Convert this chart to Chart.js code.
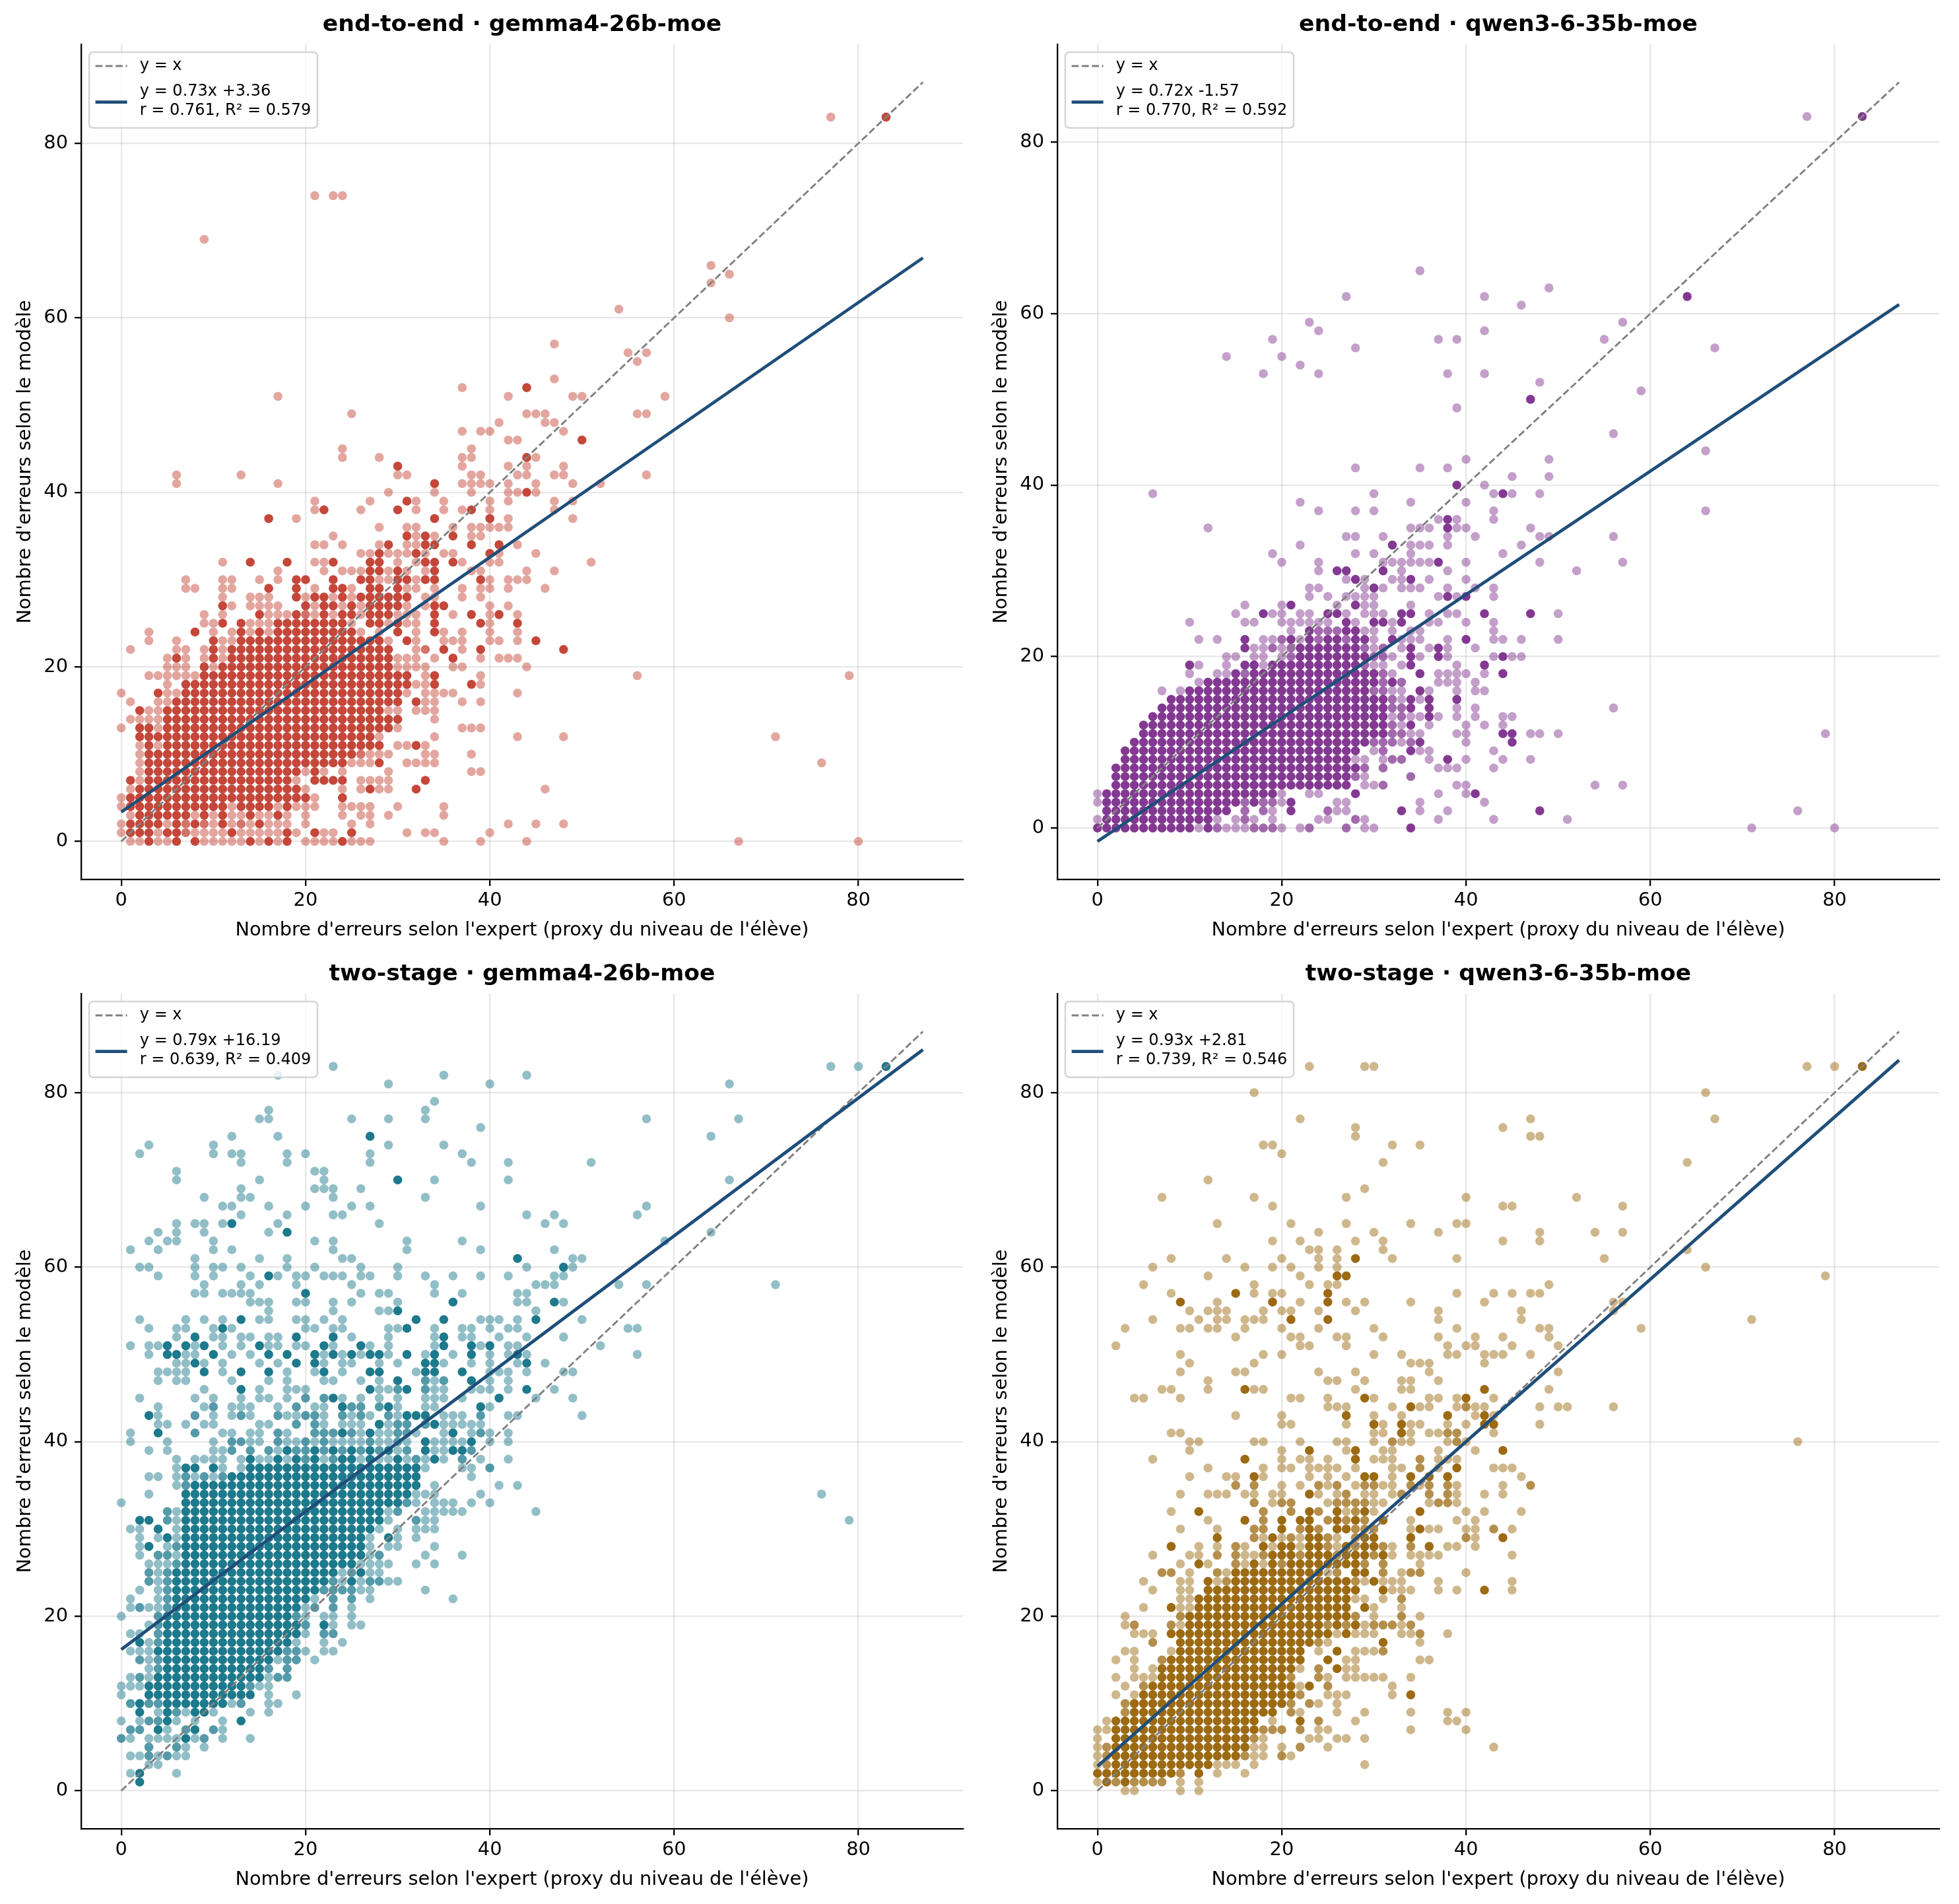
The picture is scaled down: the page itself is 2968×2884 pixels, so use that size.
<!DOCTYPE html>
<html><head><meta charset="utf-8">
<script src="https://cdn.jsdelivr.net/npm/chart.js@4.4.1/dist/chart.umd.min.js"></script>
<style>
html,body{margin:0;padding:0;background:#fff;}
body{width:2968px;height:2884px;position:relative;overflow:hidden;}
canvas{position:absolute;}
</style></head><body>
<canvas id="c0" width="1479" height="1432" style="left:0px;top:0px;width:1479px;height:1432px"></canvas>
<canvas id="c1" width="1479" height="1432" style="left:1479px;top:0px;width:1479px;height:1432px"></canvas>
<canvas id="c2" width="1479" height="1432" style="left:0px;top:1438px;width:1479px;height:1432px"></canvas>
<canvas id="c3" width="1479" height="1432" style="left:1479px;top:1438px;width:1479px;height:1432px"></canvas>
<script>
// ---------- DATA ----------
const X_TICKS = [0, 20, 40, 60, 80];
const Y_TICKS = [0, 20, 40, 60, 80];
const X_LABEL = "Nombre d'erreurs selon l'expert (proxy du niveau de l'élève)";
const Y_LABEL = "Nombre d'erreurs selon le modèle";
const PANEL_TITLES = ["end-to-end · gemma4-26b-moe", "end-to-end · qwen3-6-35b-moe", "two-stage · gemma4-26b-moe", "two-stage · qwen3-6-35b-moe"];
const FIT_SLOPES = [0.73, 0.72, 0.79, 0.93];
const FIT_INTERCEPTS = [3.36, -1.57, 16.19, 2.81];
const FIT_R = ["0.761", "0.770", "0.639", "0.739"];
const FIT_R2 = ["0.579", "0.592", "0.409", "0.546"];
const LINE_RANGE = [0, 87];
const DIAG_LABEL = "y = x";

// rows: [y, "x:level" or "x0-x1:level" ...]; level 1 = single point, 2 = few, 3 = many overlapping
const gemmaE2eRows = [
[0,"1:1 2:1 3:3 4:1 5:1 6:3 8:3 9:1 10:1 11:1 12:1 13:1 14:3 15:1 16:3 17:1 18:3 20:1 21:1 22:1 23:1 24:3 25:1 26:1 27:1 35:1 39:1 44:1 67:1 80:1"],
[1,"0:1 1:3 2:3 3:3 4:1 5:3 6:3 7:2 8:1 9:1 10:1 11:1 12:3 13:1 14:1 15:1 16:1 17:1 18:3 19:1 21:3 22:1 23:1 25:3 31:1 33:1 34:1 40:1"],
[2,"0:1 1-4:3 5:1 6:3 7:2 8:3 9:2 10:1 11:3 12:1 13:2 14:1 15:3 16:1 17:1 18:1 20:1 25:1 27:1 42:1 45:1 48:1"],
[3,"1:1 2-7:3 8:1 9:3 10:1 11:3 12:1 13:1 14:3 15:1 16:1 17:3 18:1 20:1 24:1 26:1 27:1 29:1 35:1"],
[4,"0:1 1-11:3 12:1 13-16:3 17:1 18:3 19:1 20:1 21:1 24:1 25:1 26:1 27:1 30:1 35:1"],
[5,"0:1 1-20:3 21:1 24:3"],
[6,"1:1 2-19:3 20:1 24:1 26:1 27:3 28:1 29:1 32:3 46:1"],
[7,"1:3 2:1 3-18:3 19:1 21-24:3 26:1 27:1 28:1 29:1 33:3"],
[8,"2:1 3-19:3 20:1 21:3 22:1 24:1 29:1 38:1 39:1"],
[9,"2:1 3-24:3 25:1 26:1 27:1 28:3 31:1 32:1 33:1 34:1 76:1"],
[10,"2:1 3-25:3 26:2 27:1 28:1 29:1 33:1 34:1 38:1"],
[11,"2:1 3:3 4:1 5-28:3 30:1 31:1 32:3 33:1"],
[12,"2-27:3 28:1 34:1 43:1 48:1 71:1"],
[13,"0:1 2:3 3:3 4:1 5-29:3 30:1 37:1 38:1 39:1"],
[14,"1:1 2:1 3:1 4:1 5-30:3 34:1"],
[15,"2:3 3:1 4:1 5-28:3 29:1 30:1 32:1 33:1 34:1"],
[16,"1:1 4:1 5:1 6-30:3 32:3 33:1 34:1 37:1 39:1"],
[17,"0:1 4:3 5:1 6:1 7-30:3 31:1 33:1 34:1 35:1 36:1 43:1"],
[18,"5:1 7-31:3 32:1 33:1 34:3 38:3 39:1"],
[19,"3:1 4:1 5:1 6:1 7:1 8:1 9-31:3 33:1 34:3 39:1 56:1 79:1"],
[20,"5:1 6:1 7:1 9:3 10:1 11-29:3 30:1 31:1 32:1 33:1 36:1 37:1 44:1"],
[21,"5:1 6:3 7:1 9:1 10:3 11:1 12-29:3 30:1 31:1 32:1 34:1 36:3 39:1 41:1 42:1 43:1"],
[22,"1:1 6:1 7:1 9:1 10:3 11:1 12-29:3 32:1 33:2 35:3 37:1 39:3 48:3"],
[23,"3:1 6:1 10:3 11:1 12:1 13-28:3 29:1 31:3 32:1 35:1 36:1 37:1 40:1 41:1 43:1 45:3"],
[24,"3:1 8:3 10:1 12:1 13:3 14:1 15:3 16:1 17-25:3 26:1 28:1 30:3 32:1 34:3 35:1 37:1 40:1 43:1"],
[25,"9:1 10:1 11:3 13:3 14:1 15:1 16:1 17-24:3 25:1 27:3 28:3 29:1 30:3 31:1 32:1 34:3 39:3 40:1 43:3"],
[26,"9:1 11:1 15:3 16:1 17:1 18:1 19:3 20:2 21:1 22:3 23:1 24:3 25:3 26:1 27-29:3 30:1 31:1 32:1 34:3 36:1 38:3 40:1 41:3 43:1"],
[27,"11:3 12:1 14:1 15:1 16:1 17:1 20:3 21:1 22:3 23:3 24:1 25:3 26:1 27-30:3 31:1 33:1 34:3 35:3 40:1 42:1"],
[28,"11:1 14:1 15:1 16:1 19:3 20:1 21:3 22:3 23:1 24:3 25:1 26-31:3 33:1 34:1 37:1 39:1"],
[29,"7:1 8:1 11:1 12:1 16:3 19:3 21:1 23:3 24:3 25:1 27:3 28:3 30:3 31:1 32:1 34:1 37:1 39:1 40:1 42:1 46:1"],
[30,"7:1 11:1 12:1 15:1 17:1 19:3 20:3 23:3 26:3 27:3 28:1 29:1 30:3 31:3 32:1 33:3 34:3 39:3 40:1 42:1 43:1 44:1"],
[31,"17:1 22:1 24:1 25:1 26:1 27:3 28:3 29:1 30:3 31:1 33:1 34:3 38:1 39:1 44:1 47:1"],
[32,"11:1 14:3 18:3 21:1 22:1 23:3 27:3 28:3 30:1 32:1 33:3 34:3 36:3 37:1 40:1 41:1 51:1"],
[33,"26:1 27:1 28:3 29:1 30:1 31:1 32:3 33:1 35:1 36:1 40:3 41:1 45:1"],
[34,"21:1 22:1 24:1 28:1 29:3 31:1 32:1 33:3 34:3 38:3 41:3 43:1"],
[35,"23:1 31:3 32:1 33:3 34:1 36:3 38:1 39:1"],
[36,"28:1 31:1 32:1 36:1 38:1 39:1 40:1 41:1 42:1"],
[37,"16:3 19:1 34:3 40:3 42:1 49:1"],
[38,"21:1 22:3 26:1 30:3 32:1 35:1 37:1 38:3 40:1 47:1"],
[39,"21:1 27:1 31:3 32:1 35:1 40:1 42:1 47:1 49:1"],
[40,"29:1 34:1 38:1 42:1 43:1 44:3 45:1"],
[41,"6:1 17:1 34:3 37:1 38:1 39:1 40:1 42:1 45:1 49:1 52:1"],
[42,"6:1 13:1 30:1 31:1 38:1 39:1 43:1 44:1 47:1 48:1 57:1"],
[43,"30:3 37:1 42:1 44:1 48:1"],
[44,"24:1 28:1 37:1 38:1 44:3 45:1"],
[45,"24:1 38:1"],
[46,"42:1 43:1 50:3"],
[47,"37:1 39:1 40:1 48:1"],
[48,"41:1 46:1 47:1"],
[49,"25:1 44:1 45:1 46:1 56:1 57:1"],
[51,"17:1 42:1 49:1 50:1 59:1"],
[52,"37:1 44:3"],
[53,"47:1"],
[55,"56:1"],
[56,"55:1 57:1"],
[57,"47:1"],
[60,"66:1"],
[61,"54:1"],
[64,"64:1"],
[65,"66:1"],
[66,"64:1"],
[69,"9:1"],
[74,"21:1 23:1 24:1"],
[83,"77:1 83:3"]
];

const qwenE2eRows = [
[0,"0-10:3 11:1 12:3 13:2 14-16:1 17-19:2 20:1 22:1 23:2 27:2 29:1 30:1 34:3 71:1 80:1"],
[1,"0:1 1-12:3 13:1 15:1 16:2 17:1 19:1 24:1 25:1 28:2 29:1 37:1 43:1 51:1"],
[2,"1-14:3 16:2 18:2 19:1 21:3 25:2 26:1 27:1 33:3 35:1 38:1 48:3 76:1"],
[3,"0:1 1-15:3 16:2 17:3 18:2 19:2 20:1 21:3 26:1 27:1 35:1 42:1"],
[4,"0:1 1-19:3 20:1 23:1 24:1 28:3 37:1 40:1 41:3"],
[5,"2-27:3 29:1 30:1 31:2 39:1 40:1 54:1 57:1"],
[6,"2-27:3 28:2 29:1 34:2"],
[7,"2-28:3 29:2 31:2 37:1 38:1 39:1 43:1"],
[8,"3-27:3 28:1 29:1 31:1 32:2 33:2 36:1 38:3 40:1 44:1 47:1"],
[9,"3-28:3 30:1 31:2 34:3 35:1 36:1 43:1"],
[10,"4-29:3 30-32:2 33:1 34:2 35:3 40:1 45:3"],
[11,"5-31:3 32:2 33:2 34:1 35:1 39:1 40:1 44:3 45:3 47:1 48:1 50:1 79:1"],
[12,"5-31:3 32:2 33:1 34:3 36:1 40:1 42:1 44:1"],
[13,"6-31:3 32:1 33:2 34:1 35:1 36:3 37:1 39:1 41:1 44:1 45:1"],
[14,"7-31:3 32:2 33:2 34:3 36:3 39:1 41:1 56:1"],
[15,"8-31:3 32:2 33:1 34:3 35:1 36:3 39:3"],
[16,"7:1 9:1 10-29:3 30:2 31:2 32:1 33:1 35:3 36:1 39:1 41:1 42:1"],
[17,"11:1 12-30:3 31:2 32:3 33:2 37:1 38:1 39:1 41:1"],
[18,"10:1 13:1 14:1 15:3 16:2 17-30:3 31:2 32:1 35:3 37:1 38:1 39:1 40:1 42:1 44:3"],
[19,"10:3 11:1 14:1 16:3 17:3 18:1 19-28:3 29:2 30:1 31:1 33:1 34:3 39:1 42:3"],
[20,"14:1 15:1 17:1 18:1 20:1 21:2 22-29:3 30:2 31:2 32:1 34:3 35:1 37:3 38:1 43:1 44:3 45:1 46:1"],
[21,"16:3 17:1 18:1 19:2 20:1 21:2 22-28:3 29:2 30:1 31:2 33:1 34:3 36:1 37:3 38:1 41:1"],
[22,"11:1 13:1 16:3 18:1 19:1 20:2 21:3 22:1 23:3 24:2 25:3 26:3 27:2 28:3 29:3 30:1 32:3 33:1 34:1 35:1 38:1 40:3 43:1 44:1 46:1 50:1"],
[23,"21:1 23:3 24:2 25:2 26:2 27:3 28:3 29:1 30:1 32:1 34:1 35:1 43:1"],
[24,"10:1 16:1 17:1 20-25:1 27:3 28:1 30:3 31:3 32:1 33:3 36:1 37:1 40:1 43:1"],
[25,"15:1 18:3 19:1 20:1 22:1 23:1 25:3 26:3 27:1 29:1 30:1 31:1 33:3 34:3 36:1 38:1 39:1 42:3 47:3 50:1"],
[26,"16:1 20:1 21:3 26:1 28:3 29:1 30:1 34:1"],
[27,"23:1 25:1 27:1 28:1 29:1 30:1 37:1 38:3 39:1 40:3 43:1"],
[28,"23:1 24:1 29:1 30:3 31:1 33:1 34:1 35:1 38:1 41:1 43:1"],
[29,"27:1 28:3 29:1 32:1 33:1 34:3 36:1 40:1"],
[30,"24:1 26:3 27:3 31:3 33:1 38:1 52:1"],
[31,"20:1 24:1 31:1 32:1 33:1 34:1 35:1 36:1 37:3 40:1 48:1 57:1"],
[32,"19:1 28:1 30:1 34:1 44:1"],
[33,"22:1 32:3 34:1 35:1 36:1 38:1 46:1"],
[34,"27:1 28:1 31:1 38:1 41:1 48:1 49:1 56:1"],
[35,"12:1 34:1 35:1 36:1 38:3 39:1 40:1 47:1"],
[36,"37:1 38:3 39:1 43:1"],
[37,"24:1 28:1 30:1 43:1 66:1"],
[38,"22:1 34:1 40:1"],
[39,"6:1 30:1 43:1 44:3 45:1 48:1"],
[40,"39:3 42:1"],
[41,"45:1 49:1"],
[42,"28:1 35:1 38:1"],
[43,"40:1 49:1"],
[44,"66:1"],
[46,"56:1"],
[49,"39:1"],
[50,"47:3"],
[51,"59:1"],
[52,"48:1"],
[53,"18:1 24:1 38:1 42:1"],
[54,"22:1"],
[55,"14:1 20:1"],
[56,"28:1 67:1"],
[57,"19:1 37:1 39:1 55:1"],
[58,"24:1 42:1"],
[59,"23:1 57:1"],
[61,"46:1"],
[62,"27:1 42:1 64:3"],
[63,"49:1"],
[65,"35:1"],
[83,"77:1 83:3"]
];

const gemmaTwoStageRows = [
[1,"2:3"],
[2,"1:1 2:3 6:1"],
[3,"3:1 4:1"],
[4,"1:1 2:1 3:2 4:1 5:2 6:1 7:1"],
[5,"3:2 6:2 7:1 9:1"],
[6,"0:2 1:1 3:1 4:1 5:1 6:1 7:3 8:1 9:2 11:1 14:1"],
[7,"1:2 2:2 4:3 5:1 7:2 8:3 10:2 11:1"],
[8,"0:1 2:1 3:2 4:2 5:3 6:1 8:1 11:1 13:3"],
[9,"2:3 4:1 5:3 6:2 7:1 8:3 9:3 10:1 14:1 16:1"],
[10,"1:2 2:3 3:2 4:2 5-11:3 12:1 13:2 16:1 17:1"],
[11,"0:1 3-14:3 16:1 19:1"],
[12,"0:1 1:1 2:1 3-13:3 14:2 15:1 16:1"],
[13,"1:1 2:2 3:1 4-15:3 16:1 17:2 18:2"],
[14,"3:1 4:2 5-15:3 16:2 18:2"],
[15,"2:2 3:1 4:2 5-16:3 17:1 18:2 19:2 21:1"],
[16,"1:1 2:1 3:1 4-17:3 18:2 19:2 20:1 22:1 23:1"],
[17,"2:3 3:1 4:2 5-18:3 19:1 22:1 24:1"],
[18,"1:1 2:1 4:2 5-19:3 20:1 22:2 23:2"],
[19,"3:1 4:2 5-19:3 20:2 22:3 23:1 25:1 26:1"],
[20,"0:1 4:2 5-18:3 19:2 20:1 22:1 23:1 25:1"],
[21,"1:1 2:2 3:1 4:1 5:2 6-19:3 20:1 21:2 23:2 25:1"],
[22,"1:1 4:1 5:2 6-20:3 21:1 23:2 25:2 27:1 36:1"],
[23,"2:1 4:1 5:2 6-21:3 22:2 23:2 24:2 25:2 26:1 27:1 33:1"],
[24,"3:2 4:1 5:2 6-22:3 23:2 24:1 25:3 26:1 27:2 28:2 29:1 30:1"],
[25,"3:2 4:1 5:2 6-23:3 24:1 25:2 26:3 27:1 28:1"],
[26,"3:1 4:1 5:1 6:2 7-25:3 26:1 27:1 28:1 29:1 32:1 34:1"],
[27,"2:1 4:2 5:2 6:1 7-25:3 26:3 27:1 28:2 33:1 37:1"],
[28,"2:1 3:3 5:1 6:2 7-25:3 26:3 27:1 29:1 30:1 34:1"],
[29,"2:1 4:1 5:3 6:1 7-26:3 27:1 29:3 30:1 32:1"],
[30,"1:1 2:1 4:3 6:1 7-27:3 28:1 30:1 32:1 33:1 34:1"],
[31,"2:3 3:3 5:2 6:1 7-28:3 29:1 32:2 33:1 34:1 79:1"],
[32,"5:2 6:1 7-28:3 29:1 30:2 33:1 34:1 35:1 36:1 37:1 45:1"],
[33,"0:1 7-30:3 31:2 32:1 34:1 35:1 36:1 38:1 40:1"],
[34,"3:1 7-31:3 32:1 33:1 34:1 39:1 76:1"],
[35,"6:1 7:2 8-32:3 34:1 41:1 43:1"],
[36,"3:1 4:1 6:1 7:2 8:1 9:2 10:1 11:2 12-32:3 38:1"],
[37,"6:1 7:3 8:3 10:3 11:1 13:1 14-32:3 33:1 37:1 38:1 40:2"],
[38,"6:1 8:1 9:1 10:1 11:1 13:1 14:3 15:1 16:1 17:3 18:1 19:3 20:2 21:3 22:1 23:2 24:3 25:3 26:1 27:3 28:1 29:1 30:3 31:1 32:2 33:1 34:3 35:1 37:2 39:1 42:1"],
[39,"3:1 5:1 10:1 11:1 12:2 14:2 16:2 17:1 18:3 19:2 20:2 21:3 22:2 23:3 24:2 25:3 26:2 27:3 28:2 29:3 30:1 31:2 33:3 34:1 35:1 36:3 37:3 38:2"],
[40,"1:1 5:1 10:1 12:2 13:2 14:1 15:1 17:2 18:1 19:1 20:2 21:1 22:2 23:1 24:1 25:1 26:1 27:2 28:1 29:1 30:2 31:1 33:3 34:1 35:1 36:1 37:1 38:3 40:1 42:1"],
[41,"1:1 4:3 8:2 11:1 12:1 14:1 15:1 17:2 18:1 21:2 22:2 23:2 24:3 25:2 26:1 27:3 28:1 29:1 30:2 31:2 32:1 35:1 36:3 38:1 39:2 40:1 42:1"],
[42,"4:1 5:1 7:1 9:1 10:1 15:1 16:1 19:2 21:2 22:1 24:1 25:1 26:1 28:3 29:1 30:2 31:2 33:2 34:3 35:1 36:1 37:1 38:1 39:1"],
[43,"3:3 4:1 8:2 10:1 12:1 13:2 14:1 17:2 18:1 19:1 20:2 21:2 22:1 24:2 25:1 26:2 27:1 29:2 30:1 31:3 32:3 33:3 35:1 36:1 37:1 39:2 42:1 43:1 50:1"],
[44,"4:1 9:1 10:2 12:1 13:1 14:1 17:1 19:2 21:1 22:1 24:3 25:2 26:2 28:2 29:3 30:1 33:1 34:1 39:3 40:1"],
[45,"2:1 8:1 10:1 13:1 15:1 16:1 18:1 20:2 22:2 23:3 24:1 26:1 28:1 30:1 33:1 34:1 35:1 37:1 41:3 45:1 49:1"],
[46,"9:1 13:3 15:1 18:1 19:1 20:1 27:3 28:1 29:1 30:2 31:3 33:2 34:1 35:1 38:1 39:1 40:1 42:1 44:3 47:1"],
[47,"4:1 6:1 7:1 12:1 16:1 18:1 22:1 23:1 26:1 28:1 30:3 33:2 34:1 35:2 38:3 40:1 42:1"],
[48,"4:1 5:1 6:1 7:1 9:3 11:1 13:3 16:3 18:1 21:1 22:3 24:1 27:3 28:3 32:1 33:3 34:3 37:3 40:1 41:1 42:1 44:1 48:1 49:1"],
[49,"6:1 7:1 8:3 9:1 11:1 15:1 17:1 19:3 21:3 22:1 24:1 25:1 28:1 30:1 33:3 34:3 35:1 38:1 40:1 43:1 44:3 46:1"],
[50,"3:1 5:3 6:3 7:1 8:1 10:3 12:1 14:1 16:3 18:3 21:3 22:1 23:3 24:1 25:3 26:1 27:3 28:3 29:1 31:3 33:1 34:3 36:1 38:3 40:1 42:1 43:3 44:1 56:1"],
[51,"1:1 3:1 4:1 5:3 7:3 8:1 9:3 11:1 13:1 15:3 16:1 17:1 19:1 20:1 22:3 23:1 26:3 27:1 29:1 34:1 35:3 38:3 39:1 40:3 42:1 43:1 52:1"],
[52,"6:1 8:3 10:1 11:1 13:1 14:1 16:1 17:1 19:3 23:3 25:1 29:1 34:1 35:3 37:1 38:1 41:1 44:1 48:1"],
[53,"3:1 6:1 7:1 10:1 11:3 12:1 20:1 21:1 23:1 24:1 29:1 30:1 31:3 34:1 37:1 38:1 40:1 42:1 43:1 55:1 56:1"],
[54,"2:1 7:1 9:1 11:1 13:3 15:1 16:1 19:1 20:1 22:1 24:1 32:3 35:3 39:1 40:1 41:1 43:1 45:3 50:1"],
[55,"16:1 23:1 28:1 29:1 30:3 45:1"],
[56,"14:1 15:1 16:1 19:1 20:1 23:1 25:1 30:1 36:3 43:1 44:1 47:3 48:1"],
[57,"8:1 9:1 11:1 12:1 13:1 14:1 20:3 26:1 28:1 29:1 34:1 37:1 43:1 44:1"],
[58,"9:1 13:1 15:1 19:1 25:1 34:1 45:1 46:1 47:1 54:1 57:1 71:1"],
[59,"4:1 8:1 10:1 14:1 16:3 17:1 19:1 20:1 22:1 23:1 24:1 26:1 27:1 30:1 33:1 36:1 39:1 42:1 47:1 48:1"],
[60,"2:1 3:1 8:1 10:1 11:1 13:1 18:1 21:1 26:1 30:1 44:1 48:3 49:1"],
[61,"8:1 15:1 18:1 24:1 25:1 43:3 49:1 50:1"],
[62,"1:1 4:1 10:1 12:1 23:1 31:1 39:1 47:1"],
[63,"3:1 5:1 6:1 10:1 21:1 23:1 31:1 37:1 59:1"],
[64,"4:1 6:1 9:1 16:1 18:3 64:1"],
[65,"6:1 8:1 9:1 11:1 12:3 17:1 28:1 46:1 48:1"],
[66,"13:1 18:1 23:1 24:1 44:1 47:1 56:1"],
[67,"11:1 12:1 16:1 20:1 25:1 27:1 39:1 57:1"],
[68,"9:1 13:1 14:1 23:1 33:1"],
[69,"13:1 21:1 22:1 23:1 26:1"],
[70,"6:1 15:1 22:1 30:3 34:1 42:1 66:1"],
[71,"6:1 21:1 22:1"],
[72,"13:1 18:1 27:1 38:1 42:1 51:1"],
[73,"2:1 10:1 12:1 13:1 18:1 20:1 27:1 37:1"],
[74,"3:1 10:1 29:1 35:1"],
[75,"12:1 17:1 27:3 64:1"],
[76,"39:1"],
[77,"15:1 16:1 25:1 29:1 33:1 57:1 67:1"],
[78,"16:1 33:1"],
[79,"34:1"],
[81,"29:1 40:1 66:1"],
[82,"17:1 35:1 44:1"],
[83,"23:1 77:1 80:1 83:3"]
];

const qwenTwoStageRows = [
[0,"3:1 4:1 9:1 11:1"],
[1,"0:1 1:3 2:2 3:3 4:2 5:2 6:2 7:2 9:1 11:1"],
[2,"0-8:3 9:2 11:3 13:1 16:1"],
[3,"0:1 1:2 2-12:3 13:1 14:1 15:1 17:1 29:1"],
[4,"0:1 1:2 2-15:3 16:2 17:1 18:1 20:2 21:1"],
[5,"0:1 1:2 2-16:3 17:1 18:1 20:1 22:2 25:1 43:1"],
[6,"0:1 2-16:3 17:2 18:1 23:1 24:1 26:1 27:1 29:1"],
[7,"0:1 1:1 2-17:3 18:2 19:2 20:2 22:2 24:1 25:1 34:1 40:1"],
[8,"1:1 2-17:3 19:1 22:3 24:2 28:1 38:1 39:1"],
[9,"3:2 4-19:3 21:2 22:1 26:1 29:1 34:1 38:1 40:1"],
[10,"3:2 4-20:3 21:2 23:2 24:1 26:1"],
[11,"2:1 4:1 5-21:3 22:2 25:1 26:1 27:1 32:1 34:3"],
[12,"3:1 5:2 6-21:3 22:1 23:3 25:2 32:1"],
[13,"2:1 4:1 5:1 6:1 7-20:3 21:2 24:2 25:1 27:1 28:1 29:1 30:1 31:1 34:1"],
[14,"4:1 6:1 7-21:3 22:1 24:2 26:3 27:1 28:1"],
[15,"2:1 4:1 7:2 8-22:3 25:3 27:1 28:1 35:1 36:1"],
[16,"3:1 4:1 8:1 9-22:3 24:1 26:3 28:1 29:1 30:1 31:2"],
[17,"6:2 9-23:3 24:2 25:1 31:3 35:1"],
[18,"4:1 5:1 6:1 8-25:3 26:1 27:3 28:1 29:1 30:1 33:1 34:1 35:2 38:1"],
[19,"3:1 4:2 8:2 9:1 10-24:3 25:2 26:3 27:2 28:3 29:1 30:2 31:2 32:2 33:1 34:2"],
[20,"3:1 9:2 10-27:3 28:2 30:1 33:2 35:1"],
[21,"5:1 8:3 9:1 10:1 11-27:3 29:3 30:1 33:1"],
[22,"9:1 10:1 11-27:3 28:1 29:1 31:1 33:2"],
[23,"6:1 9:1 10:1 12-28:3 31:3 32:1 33:1 34:1 37:1 39:1 42:3 45:1"],
[24,"5:1 9:1 10:1 12:3 13:1 14:2 15-27:3 28:2 29:1 30:3 31:1 32:1 33:1 37:1 45:1"],
[25,"7:2 8:2 10:1 13:2 14:1 15-24:3 25:1 26:2 28:3 29:3 31:2 33:1 34:2 35:2 40:1"],
[26,"9:1 11:3 12:1 15:2 16:1 17:3 18:1 19:3 20:2 21-28:3 29:2 31:2 35:1"],
[27,"6:1 10:1 11:1 13:2 15:2 16:1 17:1 18:2 19-21:3 22:2 23-25:3 26:2 27-29:3 30:2 31:3 32:1 34:1 35:1 36:1 37:1 45:1"],
[28,"8:3 11:1 13:1 15:2 16:1 18:3 19:1 20:3 21:3 22:1 23:3 24:3 25:2 26:1 27:3 28:2 29:3 30:3 31:2 32:1 34:2 36:3 38:1 39:1 41:1"],
[29,"13:3 17:2 18:1 19:3 20:1 21:2 22:1 23:3 24:3 25:2 26:1 28:2 29:3 30:3 34:3 40:2 41:1 44:3"],
[30,"9:1 13:1 17:2 18:2 20:3 22:2 23:3 24:2 26:3 27:3 28:2 29:2 30:2 34:1 35:3 36:1 37:1 40:1 41:1 43:2 45:1"],
[31,"12:1 16:3 18:2 20:3 22:3 23:3 25:2 26:3 27:2 28:3 29:2 31:3 34:1 39:1 41:1"],
[32,"8:1 11:3 18:2 21:2 23:3 24:2 26:3 27:1 28:2 29:3 30:1 35:3 40:1 42:1 46:1"],
[33,"17:2 19:1 20:2 21:2 25:1 26:2 27:2 28:2 29:2 30:1 31:1 36:1 37:2 38:2 39:1"],
[34,"9:1 12:1 13:1 14:1 16:1 17:1 19:1 20:1 23:3 24:1 26:1 27:2 29:1 30:1 32:1 33:2 36:2 38:2 39:1 42:1 44:1"],
[35,"15:2 17:2 20:1 22:1 24:2 25:1 26:2 28:1 29:2 30:2 31:1 32:1 34:2 35:1 36:2 38:2 39:1 44:1 47:2"],
[36,"10:1 14:1 15:1 17:3 18:1 23:1 25:1 27:1 29:3 30:3 32:1 34:3 36:3 38:3 46:1"],
[37,"12:1 18:1 20:1 21:1 23:1 24:1 25:1 26:1 28:1 32:1 33:1 35:2 37:1 39:3 43:1 44:1 45:1"],
[38,"6:1 16:3 20:1 22:1 23:1 25:1 28:3 30:1 31:1 32:1 35:2 37:1 38:1 39:1"],
[39,"10:1 20:1 23:3 27:1 28:3 31:1 32:1 37:1 41:1 44:3"],
[40,"10:1 11:1 17:1 18:1 22:1 26:1 27:1 30:1 32:2 33:1 34:1 38:1 39:2 40:1 76:1"],
[41,"8:1 9:1 30:1 31:1 33:3 34:1 36:1 37:1 38:2 39:2 43:1"],
[42,"20:1 21:1 27:1 30:3 31:1 33:3 34:1 35:1 38:1 40:1 42:3 43:3 48:1"],
[43,"15:1 20:1 27:3 30:1 33:1 38:3 41:1 42:3 43:1"],
[44,"25:1 26:1 27:1 32:1 34:3 35:1 36:1 39:1 40:2 41:1 42:1 48:1 50:1 51:1 56:1"],
[45,"4:1 5:1 9:1 21:1 22:1 25:1 29:3 30:1 36:1 37:1 39:1 40:3 43:1"],
[46,"7:1 8:1 12:1 16:3 17:1 18:1 28:1 33:1 34:1 42:3 49:1"],
[47,"12:1 25:1 26:1 29:1 33:1 34:1 37:1"],
[48,"9:1 15:1 16:1 24:1 28:1 36:1 50:1"],
[49,"10:1 17:1 34:1 35:1 36:1 42:1"],
[50,"9:1 18:1 20:1 30:1 33:1 38:1 39:1 42:1 43:1 44:1 47:1"],
[51,"2:1 22:1 23:1 27:1 38:1 40:1 41:1 45:1 50:1"],
[52,"15:1 21:1 22:1 26:1 27:1 31:1 37:1 41:1 44:1 49:1"],
[53,"3:1 9:1 10:1 12:1 13:1 16:1 20:1 24:1 30:1 39:1 48:1 49:1 59:1"],
[54,"6:1 11:1 13:1 14:1 16:1 17:1 18:1 21:3 25:3 37:1 46:1 71:1"],
[55,"10:1 12:1 13:1 14:1 18:1 20:1 21:1 24:1 28:1 37:1 46:1 56:1"],
[56,"9:3 13:1 19:3 22:1 25:3 27:1 29:1 34:1 42:1 56:1 57:1"],
[57,"8:1 15:3 17:1 19:1 20:1 25:3 39:1 43:1 45:1 47:1 48:1"],
[58,"5:1 17:1 23:1 25:1 26:1 49:1"],
[59,"12:1 22:1 26:3 27:3 79:1"],
[60,"6:1 16:1 19:1 21:1 24:1 26:1 66:1"],
[61,"8:1 14:1 20:1 24:1 26:1 28:3 32:1 39:1 55:1"],
[62,"23:1 24:1 26:1 31:1 64:1"],
[63,"19:1 22:1 28:1 31:1 44:1 48:1"],
[64,"24:1 30:1 37:1 48:1 54:1 57:1"],
[65,"13:1 21:1 27:1 34:1 39:1 40:1"],
[67,"19:1 44:1 45:1 57:1"],
[68,"7:1 17:1 27:1 40:1 52:1"],
[69,"29:1"],
[70,"12:1"],
[72,"31:1 64:1"],
[73,"20:1"],
[74,"18:1 19:1 32:1 35:1"],
[75,"28:1 47:1 48:1"],
[76,"28:1 44:1"],
[77,"22:1 47:1 67:1"],
[80,"17:1 66:1"],
[83,"23:1 29:1 30:1 77:1 80:1 83:3"]
];

const PANEL_ROWS = [gemmaE2eRows, qwenE2eRows, gemmaTwoStageRows, qwenTwoStageRows];
const PANEL_COLORS = [[192,57,43],[122,42,138],[12,111,131],[148,95,0]];

// ---------- STYLE ----------
const FONT = "'DejaVu Sans', 'Noto Sans', sans-serif";
const LEVEL_ALPHA = {1: 0.45, 2: 0.70, 3: 0.93};
const FIT_COLOR = '#1f4e79';
const DIAG_COLOR = '#808080';
const GRID_COLOR = 'rgba(176,176,176,0.3)';

function expandRows(rows) {
  const out = {1: [], 2: [], 3: []};
  rows.forEach(([y, s]) => {
    s.trim().split(/\s+/).forEach(tok => {
      const [range, lvl] = tok.split(':');
      const parts = range.split('-').map(Number);
      const a = parts[0], b = parts.length > 1 ? parts[1] : parts[0];
      for (let x = a; x <= b; x++) out[lvl].push({x: x, y: y});
    });
  });
  return out;
}

function autoLimits(vals) {
  const lo = Math.min(...vals), hi = Math.max(...vals);
  const m = (hi - lo) * 0.05;
  return [lo - m, hi + m];
}

const mplLegend = {
  id: 'mplLegend',
  afterDraw(chart) {
    const {ctx, chartArea} = chart;
    const entries = chart.data.datasets.filter(d => d.legendText).sort((a, b) => a.legendRank - b.legendRank);
    const fs = 24;
    ctx.save();
    ctx.font = fs + 'px ' + FONT;
    let maxW = 0;
    entries.forEach(e => e.legendText.forEach(t => { maxW = Math.max(maxW, ctx.measureText(t).width); }));
    const x0 = chartArea.left + 12, y0 = chartArea.top + 12;
    const pad = 9.6, hl = 48, htp = 19.2, lineGap = 29, entryGap = 38.7, topOff = 21, botOff = 26;
    // compute line centers
    let cy = y0 + topOff;
    const layout = [];
    entries.forEach((e, i) => {
      if (i > 0) cy += entryGap;
      const centers = [];
      e.legendText.forEach((t, j) => { if (j > 0) cy += lineGap; centers.push(cy); });
      layout.push(centers);
    });
    const w = pad + hl + htp + maxW + pad;
    const h = cy + botOff - y0;
    const r = 6;
    ctx.beginPath();
    ctx.moveTo(x0 + r, y0);
    ctx.lineTo(x0 + w - r, y0); ctx.arcTo(x0 + w, y0, x0 + w, y0 + r, r);
    ctx.lineTo(x0 + w, y0 + h - r); ctx.arcTo(x0 + w, y0 + h, x0 + w - r, y0 + h, r);
    ctx.lineTo(x0 + r, y0 + h); ctx.arcTo(x0, y0 + h, x0, y0 + h - r, r);
    ctx.lineTo(x0, y0 + r); ctx.arcTo(x0, y0, x0 + r, y0, r);
    ctx.closePath();
    ctx.fillStyle = 'rgba(255,255,255,0.8)';
    ctx.fill();
    ctx.lineWidth = 2.6;
    ctx.strokeStyle = 'rgba(204,204,204,0.8)';
    ctx.stroke();
    entries.forEach((e, i) => {
      const centers = layout[i];
      const hy = centers.reduce((s, v) => s + v, 0) / centers.length + (centers.length > 1 ? 1.5 : 0);
      ctx.beginPath();
      ctx.setLineDash(e.borderDash || []);
      ctx.lineWidth = e.borderWidth;
      ctx.strokeStyle = e.borderColor;
      ctx.lineCap = 'butt';
      ctx.moveTo(x0 + pad, hy);
      ctx.lineTo(x0 + pad + hl, hy);
      ctx.stroke();
      ctx.setLineDash([]);
      ctx.fillStyle = '#000';
      ctx.textBaseline = 'middle';
      ctx.textAlign = 'left';
      e.legendText.forEach((t, j) => ctx.fillText(t, x0 + pad + hl + htp, centers[j]));
    });
    ctx.restore();
  }
};

function fmtFit(i) {
  const a = FIT_SLOPES[i], b = FIT_INTERCEPTS[i];
  return ['y = ' + a.toFixed(2) + 'x ' + (b >= 0 ? '+' : '') + b.toFixed(2),
          'r = ' + FIT_R[i] + ', R² = ' + FIT_R2[i]];
}

function makePanel(i) {
  const lv = expandRows(PANEL_ROWS[i]);
  const [cr, cg, cb] = PANEL_COLORS[i];
  const col = a => 'rgba(' + cr + ',' + cg + ',' + cb + ',' + a + ')';
  const fit = x => FIT_SLOPES[i] * x + FIT_INTERCEPTS[i];
  const fitPts = LINE_RANGE.map(x => ({x: x, y: fit(x)}));
  const diagPts = LINE_RANGE.map(x => ({x: x, y: x}));
  const allPts = lv[1].concat(lv[2], lv[3]);
  const xl = autoLimits(allPts.map(p => p.x).concat(LINE_RANGE));
  const yl = autoLimits(allPts.map(p => p.y).concat(LINE_RANGE, fitPts.map(p => p.y)));
  const scatterDs = (lvl, order) => ({
    label: 'pts' + lvl, data: lv[lvl], showLine: false,
    pointRadius: 6.8, pointHoverRadius: 6.8, pointBorderWidth: 0,
    pointBackgroundColor: col(LEVEL_ALPHA[lvl]), backgroundColor: col(LEVEL_ALPHA[lvl]),
    borderColor: 'rgba(0,0,0,0)', order: order
  });
  const axisCommon = (ticksArr) => ({
    type: 'linear',
    afterBuildTicks: s => { s.ticks = ticksArr.map(v => ({value: v})); },
    grid: {color: GRID_COLOR, lineWidth: 2.3, drawTicks: true, tickLength: 10, tickColor: '#000', tickWidth: 2.3},
    border: {display: true, color: '#000', width: 2.3},
  });
  new Chart(document.getElementById('c' + i), {
    type: 'scatter',
    data: {datasets: [
      {label: 'fit', legendText: fmtFit(i), legendRank: 1, data: fitPts, showLine: true, pointRadius: 0,
       borderColor: FIT_COLOR, borderWidth: 4.8, fill: false, order: 0},
      {label: DIAG_LABEL, legendText: [DIAG_LABEL], legendRank: 0, data: diagPts, showLine: true, pointRadius: 0,
       borderColor: DIAG_COLOR, borderWidth: 2.9, borderDash: [10.7, 4.6], fill: false, order: 1},
      scatterDs(3, 2), scatterDs(2, 3), scatterDs(1, 4)
    ]},
    options: {
      responsive: false, animation: false, devicePixelRatio: 1, events: [],
      layout: {padding: {left: 0, top: 0, right: 20, bottom: 5}},
      plugins: {
        legend: {display: false}, tooltip: {enabled: false},
        title: {display: true, text: PANEL_TITLES[i], color: '#000', fullSize: false,
                font: {family: FONT, size: 34.6, weight: 'bold', lineHeight: 1.2},
                padding: {top: 17, bottom: 8.5}}
      },
      scales: {
        x: Object.assign(axisCommon(X_TICKS), {
          position: 'bottom', min: xl[0], max: xl[1],
          afterFit: s => { s.height = 95; },
          ticks: {color: '#000', font: {family: FONT, size: 28.8}, padding: 5, maxRotation: 0, autoSkip: false},
          title: {display: true, text: X_LABEL, color: '#000', font: {family: FONT, size: 28.8}, padding: {top: 0, bottom: 0}}
        }),
        y: Object.assign(axisCommon(Y_TICKS), {
          position: 'left', min: yl[0], max: yl[1],
          afterFit: s => { s.width = 123; },
          ticks: {color: '#000', font: {family: FONT, size: 28.8}, padding: 10, autoSkip: false},
          title: {display: true, text: Y_LABEL, color: '#000', font: {family: FONT, size: 28.8}, padding: {top: 21, bottom: 0}}
        })
      }
    },
    plugins: [mplLegend]
  });
}

[0, 1, 2, 3].forEach(makePanel);
</script>
</body></html>
